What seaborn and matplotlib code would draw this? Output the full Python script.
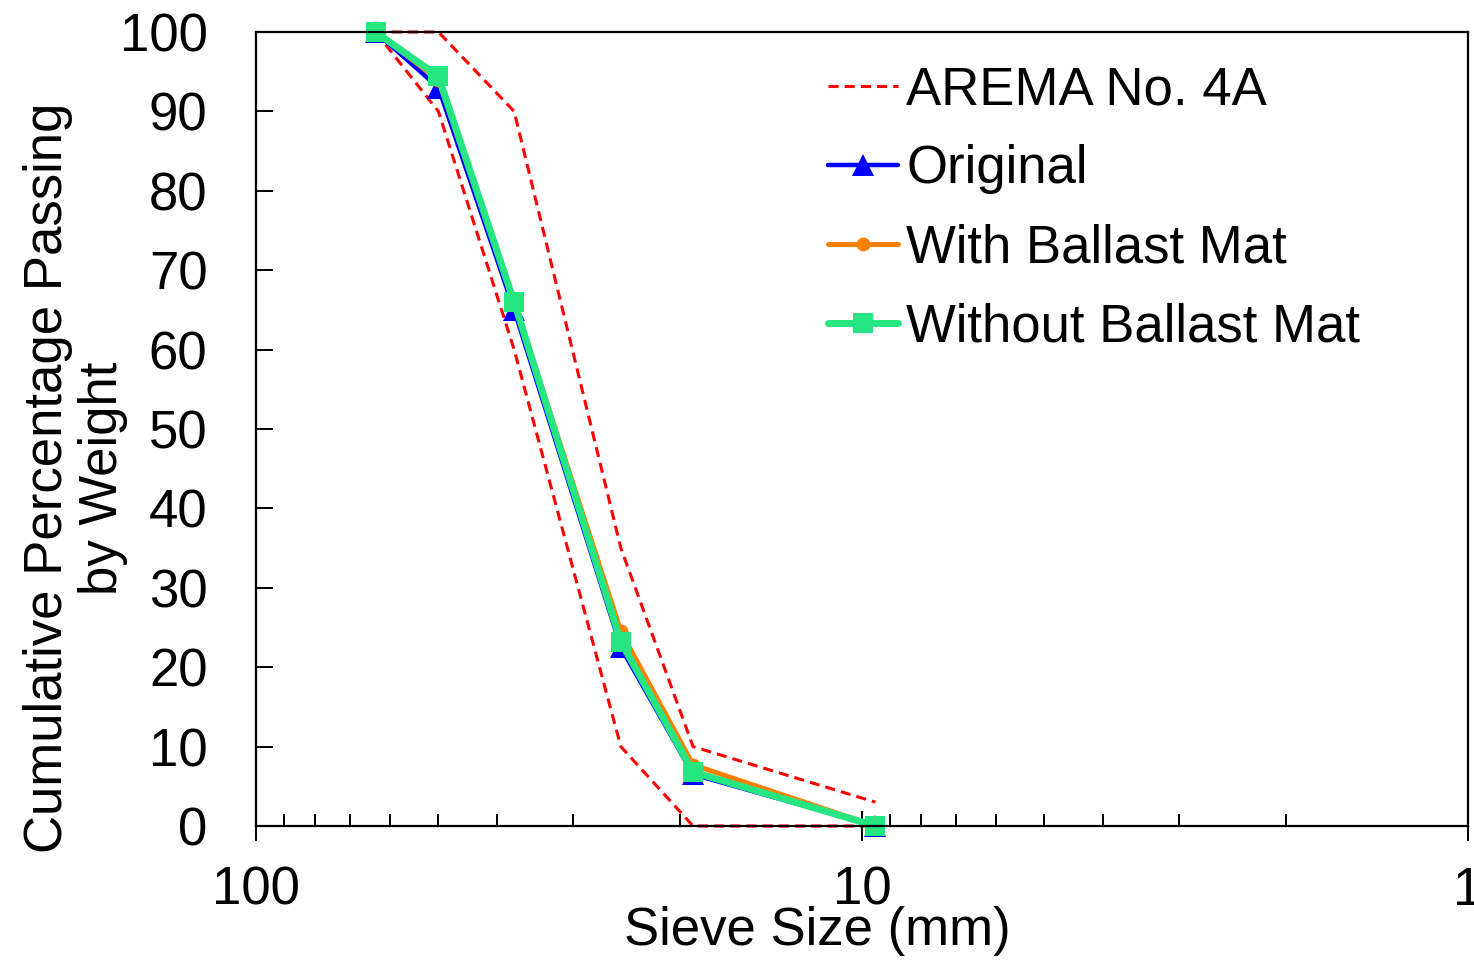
import matplotlib
matplotlib.use("Agg")
import matplotlib.pyplot as plt
import matplotlib.ticker as mticker
import seaborn as sns
import pandas as pd

sieve_mm = [63.5, 50.0, 37.5, 25.0, 19.0, 9.5]
arema_upper = [100, 100, 90, 35, 10, 3]
arema_lower = [100, 90, 60, 10, 0, 0]
original = [100, 93, 65, 22.5, 6.5, 0]
with_mat = [100, 94, 66, 24.5, 7.7, 0]
without_mat = [100, 94.4, 66, 23.2, 6.8, 0]
x_ticks = [100, 10, 1]
x_tick_labels = ["100", "10", "1"]
y_ticks = list(range(0, 101, 10))

sns.set_style("ticks")
plt.rcParams["font.family"] = ["Liberation Sans", "DejaVu Sans"]
plt.rcParams.update({"text.color": "black", "axes.labelcolor": "black",
                     "xtick.color": "black", "ytick.color": "black",
                     "axes.edgecolor": "black"})
FS = 38

fig = plt.figure(figsize=(14.74, 9.64), dpi=100)
ax = fig.add_axes([256/1474, 1 - 826/964, 1212/1474, 794/964])

red = "#FF0000"
dash = (0, (3.3, 2.0))
sns.lineplot(x=sieve_mm, y=arema_upper, ax=ax, color=red, lw=2.2,
             linestyle=dash, estimator=None, sort=False, label="AREMA No. 4A", clip_on=False)
sns.lineplot(x=sieve_mm, y=arema_lower, ax=ax, color=red, lw=2.2,
             linestyle=dash, estimator=None, sort=False, label="_nolegend_", clip_on=False)
sns.lineplot(x=sieve_mm, y=original, ax=ax, color="#0000FF", lw=3.2, marker="^", markersize=16,
             markeredgewidth=0, estimator=None, sort=False, label="Original", clip_on=False)
sns.lineplot(x=sieve_mm, y=with_mat, ax=ax, color="#FF8000", lw=3.6, marker="o", markersize=10,
             markeredgewidth=0, estimator=None, sort=False, label="With Ballast Mat", clip_on=False)
sns.lineplot(x=sieve_mm, y=without_mat, ax=ax, color="#26E682", lw=5, marker="s", markersize=14,
             markeredgewidth=0, estimator=None, sort=False, label="Without Ballast Mat", clip_on=False)

ax.set_xscale("log")
ax.set_xlim(100, 1)
ax.set_ylim(0, 100)
ax.set_xticks(x_ticks)
ax.set_xticklabels(x_tick_labels)
ax.xaxis.set_minor_locator(mticker.LogLocator(base=10, subs=range(2, 10)))
ax.xaxis.set_minor_formatter(mticker.NullFormatter())
ax.set_yticks(y_ticks)

for s in ax.spines.values():
    s.set_linewidth(1.6)
    s.set_color("black")
    s.set_visible(True)

ax.tick_params(axis="x", which="major", direction="inout", length=21, width=1.4,
               labelsize=FS, pad=18, colors="black")
ax.tick_params(axis="x", which="minor", direction="in", length=9, width=1.4)
ax.tick_params(axis="y", which="major", direction="in", length=12, width=1.4,
               labelsize=FS, pad=35, colors="black")

ax.set_xlabel("Sieve Size (mm)", fontsize=FS)
ax.xaxis.set_label_coords(0.463, -0.101)
ax.set_ylabel("Cumulative Percentage Passing\nby Weight", fontsize=FS, linespacing=1.12)
ax.yaxis.set_label_coords(-0.106, 0.438)

leg = ax.legend(loc="upper left", bbox_to_anchor=(0.472, 0.958), frameon=False, fontsize=FS,
                handlelength=1.33, handletextpad=0.15, labelspacing=0.55, borderpad=0,
                borderaxespad=0)

fig.savefig("out.png", dpi=100)
